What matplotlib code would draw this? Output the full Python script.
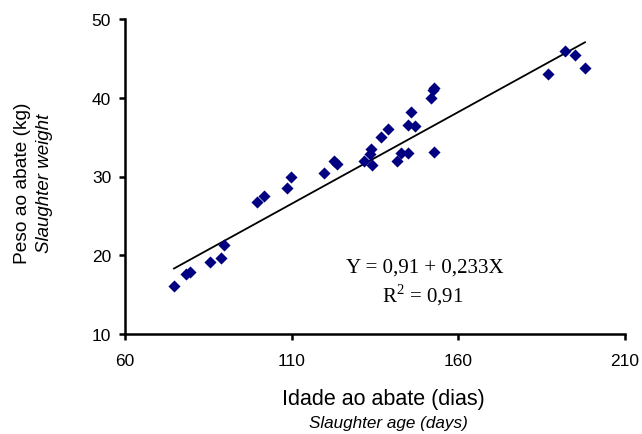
import matplotlib
matplotlib.use('Agg')
import matplotlib.pyplot as plt
import numpy as np

# Idade ao abate (dias) / Peso ao abate (kg)
idade = [74.7, 78.3, 79.5, 85.5, 88.8, 89.7, 99.6, 101.7, 108.6, 109.8,
         119.7, 122.7, 123.6, 131.7, 133.8, 133.5, 134.1, 136.8, 138.9,
         141.6, 142.8, 144.9, 144.9, 147.0, 145.8, 151.8, 152.4, 152.7,
         152.7, 186.9, 192.0, 195.0, 198.0]
peso = [16.1, 17.6, 17.9, 19.1, 19.6, 21.3, 26.8, 27.5, 28.6, 30.0,
        30.5, 32.0, 31.6, 32.0, 33.5, 32.9, 31.5, 35.0, 36.0,
        32.0, 33.0, 33.0, 36.5, 36.4, 38.2, 40.0, 41.0, 41.3,
        33.1, 43.0, 46.0, 45.4, 43.8]

# Regression: Y = 0,91 + 0,233X
intercept = 0.91
slope = 0.233

x_ticks = [60, 110, 160, 210]
y_ticks = [10, 20, 30, 40, 50]

plt.rcParams['font.family'] = ['Liberation Sans', 'DejaVu Sans']

fig = plt.figure(figsize=(6.42, 4.35), dpi=100)
ax = fig.add_axes([125 / 642, 1 - 335 / 435, 500 / 642, 315 / 435])

ax.scatter(idade, peso, marker='D', s=38, color='#000080', zorder=3,
           linewidths=0)

xl = np.array([min(idade), max(idade)])
ax.plot(xl, intercept + slope * xl, color='black', linewidth=1.3, zorder=2)

ax.set_xlim(60, 210)
ax.set_ylim(10, 50)
ax.set_xticks(x_ticks)
ax.set_yticks(y_ticks)
ax.tick_params(axis='both', direction='out', length=4, width=1.8,
               labelsize=12.5)
ax.tick_params(axis='x', pad=10)
ax.tick_params(axis='y', pad=6)

for side in ['top', 'right']:
    ax.spines[side].set_visible(False)
for side in ['left', 'bottom']:
    ax.spines[side].set_linewidth(1.8)

# equation
fig.text(425 / 642, 1 - 268 / 435, 'Y = 0,91 + 0,233X',
         ha='center', va='center', fontsize=15, family='Liberation Serif')
fig.text(423 / 642, 1 - 295 / 435, r'R$^{\mathregular{2}}$ = 0,91',
         ha='center', va='center', fontsize=15, family='Liberation Serif')

# axis labels
fig.text(383 / 642, 1 - 400 / 435, 'Idade ao abate (dias)', ha='center',
         va='center', fontsize=15.5)
fig.text(388 / 642, 1 - 424 / 435, 'Slaughter age (days)', ha='center',
         va='center', fontsize=12.3, style='italic')
fig.text(23 / 642, 1 - 183 / 435, 'Peso ao abate (kg)', ha='center',
         va='center', fontsize=13.8, rotation=90)
fig.text(45 / 642, 1 - 183 / 435, 'Slaughter weight', ha='center',
         va='center', fontsize=13.5, rotation=90, style='italic')

fig.savefig('out.png', dpi=100)
